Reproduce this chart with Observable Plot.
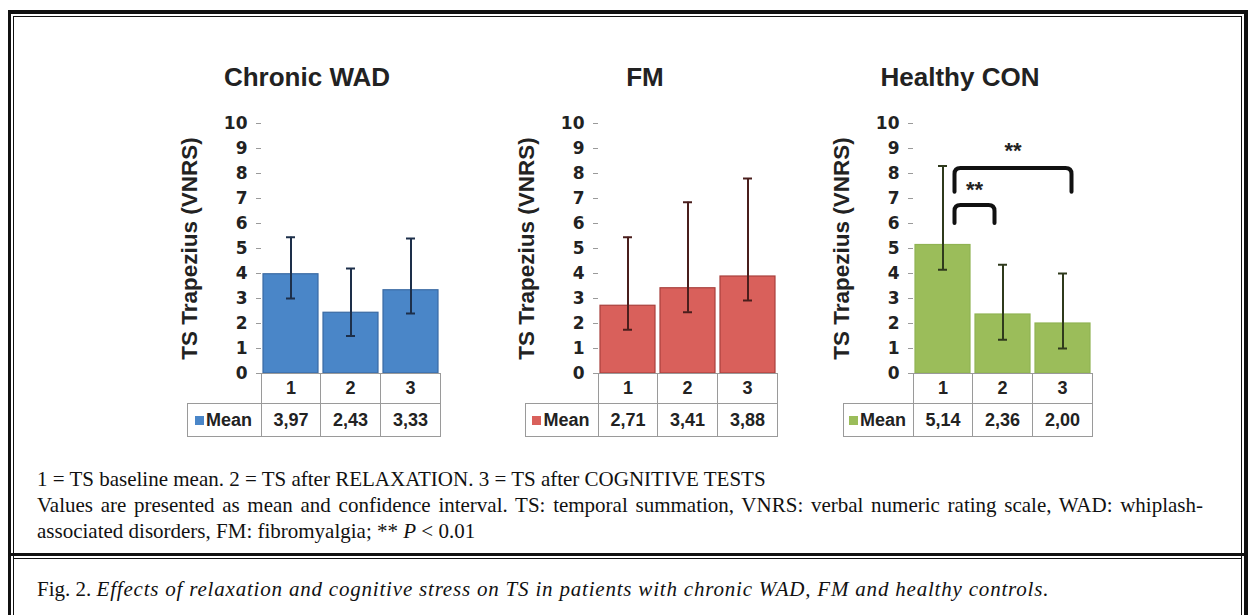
<!DOCTYPE html>
<html><head><meta charset="utf-8">
<script src="https://cdn.jsdelivr.net/npm/d3@7"></script>
<script src="https://cdn.jsdelivr.net/npm/@observablehq/plot@0.6"></script>
<style>
body{margin:0;background:#fff;}
#page{position:relative;width:1248px;height:615px;overflow:hidden;background:#fff;}
.abs{position:absolute;}
.title{font-family:"Liberation Sans",Arial,sans-serif;font-weight:bold;font-size:26px;color:#222;white-space:nowrap;transform:translateX(-50%);}
.cell{position:absolute;box-sizing:border-box;border:1px solid #9a9a9a;font-family:"Liberation Sans",Arial,sans-serif;font-weight:bold;font-size:18px;color:#222;display:flex;align-items:center;justify-content:center;background:#fff;}
.note{font-family:"Liberation Serif","Times New Roman",serif;font-size:21px;color:#111;line-height:26px;white-space:nowrap;}
.just{font-family:"Liberation Serif","Times New Roman",serif;font-size:21px;color:#111;line-height:26px;text-align:justify;text-align-last:justify;white-space:normal;}
.fig{font-family:"Liberation Serif","Times New Roman",serif;font-size:21px;color:#111;line-height:26px;white-space:nowrap;}
.fig i{letter-spacing:0.8px;}
</style></head><body><div id="page"></div>
<script>
// ---- data ----
const groups = ["Chronic WAD", "FM", "Healthy CON"];
const conditions = ["1", "2", "3"];
const meanWAD = [3.97, 2.43, 3.33];
const lowWAD  = [3.0, 1.5, 2.4];
const highWAD = [5.45, 4.2, 5.4];
const meanFM  = [2.71, 3.41, 3.88];
const lowFM   = [1.75, 2.45, 2.92];
const highFM  = [5.45, 6.85, 7.8];
const meanCON = [5.14, 2.36, 2.00];
const lowCON  = [4.15, 1.35, 1.0];
const highCON = [8.3, 4.35, 4.0];
const yTicks = [0, 1, 2, 3, 4, 5, 6, 7, 8, 9, 10];
const yLabel = "TS Trapezius (VNRS)";
const rowLabel = "Mean";
const bracketsCON = [
  {from: "1", to: "2", top: 6.72, leg: 6.0, label: "**", labelY: 7.5},
  {from: "1", to: "3", top: 8.2, leg: 7.25, label: "**", labelY: 9.05}
];
const noteLines = [
  "1 = TS baseline mean. 2 = TS after RELAXATION. 3 = TS after COGNITIVE TESTS",
  "Values are presented as mean and confidence interval. TS: temporal summation, VNRS: verbal numeric rating scale, WAD: whiplash-",
  "associated disorders, FM: fibromyalgia; ** <i>P</i> &lt; 0.01"
];
const figLabel = "Fig. 2.";
const figText = "Effects of relaxation and cognitive stress on TS in patients with chronic WAD, FM and healthy controls.";

// ---- layout / style ----
const page = document.getElementById("page");
const panels = [
  {name: groups[0], mean: meanWAD, low: lowWAD, high: highWAD, brackets: [], axisX: 261, meanLeft: 187, titleX: 307,
   fill: "#4a86c8", stroke: "#3a6aa3", err: "#1d2f4a"},
  {name: groups[1], mean: meanFM, low: lowFM, high: highFM, brackets: [], axisX: 598, meanLeft: 525, titleX: 645,
   fill: "#d9605b", stroke: "#a8403c", err: "#4a1e1c"},
  {name: groups[2], mean: meanCON, low: lowCON, high: highCON, brackets: bracketsCON, axisX: 913, meanLeft: 843, titleX: 960,
   fill: "#9bbd5a", stroke: "#90b352", err: "#2f3a1c"}
];
const mL = 95, mR = 10, mT = 15, mB = 6, frameW = 180, frameH = 250, frameTop = 123;
const bracketInset = [[12, -8], [12, 9]];

function fmt(v) { return v.toFixed(2).replace(".", ","); }

function div(cls, left, top, w, h, html) {
  const d = document.createElement("div");
  d.className = cls; d.style.left = left + "px"; d.style.top = top + "px";
  if (w != null) d.style.width = w + "px";
  if (h != null) d.style.height = h + "px";
  if (html != null) d.innerHTML = html;
  page.appendChild(d);
  return d;
}

// frame borders
div("abs", 8, 10, 1240, 4).style.background = "#111";
div("abs", 8, 10, 3, 605).style.background = "#111";
div("abs", 13, 16, 1, 599).style.background = "#111";
div("abs", 13, 16, 1229, 1).style.background = "#111";
div("abs", 1244, 10, 4, 605).style.background = "#111";
div("abs", 1241, 16, 1, 599).style.background = "#111";
div("abs", 8, 553, 1240, 3).style.background = "#111";
div("abs", 13, 558, 1228, 1).style.background = "#111";

for (const p of panels) {
  const rows = conditions.map((c, i) => ({cond: c, mean: p.mean[i], low: p.low[i], high: p.high[i]}));
  const bracketRender = (index, scales, values, dimensions, context) => {
    const g = d3.create("svg:g");
    const bw = scales.x.bandwidth ? scales.x.bandwidth() : 0;
    const cx = c => scales.x(c) + bw / 2;
    p.brackets.forEach((b, i) => {
      const x1 = cx(b.from) + bracketInset[i][0];
      const x2 = cx(b.to) + bracketInset[i][1];
      const yt = scales.y(b.top), yl = scales.y(b.leg), r = 6;
      g.append("path")
        .attr("d", `M${x1},${yl} L${x1},${yt + r} Q${x1},${yt} ${x1 + r},${yt} L${x2 - r},${yt} Q${x2},${yt} ${x2},${yt + r} L${x2},${yl}`)
        .attr("fill", "none").attr("stroke", "#111").attr("stroke-width", 4).attr("stroke-linecap", "round");
      g.append("text")
        .attr("x", (x1 + x2) / 2).attr("y", scales.y(b.labelY) + 11)
        .attr("text-anchor", "middle").attr("font-family", "Liberation Sans, Arial, sans-serif")
        .attr("font-weight", "bold").attr("font-size", 22).attr("fill", "#222").text(b.label);
    });
    return g.node();
  };
  const chart = Plot.plot({
    width: mL + frameW + mR, height: mT + frameH + mB,
    marginLeft: mL, marginRight: mR, marginTop: mT, marginBottom: mB,
    x: {domain: conditions, paddingInner: 0.08, paddingOuter: 0.03, axis: null},
    y: {domain: [0, 10], axis: null},
    style: {background: "transparent", overflow: "visible"},
    marks: [
      Plot.barY(rows, {x: "cond", y: "mean", fill: p.fill, stroke: p.stroke, strokeWidth: 1.2}),
      Plot.ruleX(rows, {x: "cond", y1: "low", y2: "high", stroke: p.err, strokeWidth: 2}),
      Plot.tickY(rows, {x: "cond", y: "low", stroke: p.err, strokeWidth: 2, insetLeft: 23, insetRight: 23}),
      Plot.tickY(rows, {x: "cond", y: "high", stroke: p.err, strokeWidth: 2, insetLeft: 23, insetRight: 23}),
      Plot.axisY({ticks: yTicks, tickFormat: d => String(d), tickSize: 5, tickPadding: 9, stroke: "#9a9a9a", fill: "#222",
        fontSize: 17, fontWeight: "bold", fontFamily: "DejaVu Sans, sans-serif", label: null}),
      Plot.ruleX([0], {frameAnchor: "left", y1: 0, y2: 10, stroke: "#9a9a9a", strokeWidth: 1.2}),
      Plot.text([yLabel], {frameAnchor: "left", textAnchor: "middle", rotate: -90, dx: -72, fontSize: 22.5, fontWeight: "bold",
        fontFamily: "Liberation Sans, Arial, sans-serif", fill: "#222"}),
      bracketRender
    ]
  });
  chart.style.position = "absolute";
  chart.style.left = (p.axisX - mL) + "px";
  chart.style.top = (frameTop - mT) + "px";
  page.appendChild(chart);

  // title
  div("abs title", p.titleX, 62, null, null, p.name);

  // table
  const colW = frameW / conditions.length;
  const r1Top = frameTop + frameH, r1H = 31, r2H = 34;
  conditions.forEach((c, i) => {
    div("cell", p.axisX + i * colW - (i ? 1 : 0), r1Top, colW + (i ? 1 : 0), r1H, c);
    div("cell", p.axisX + i * colW - (i ? 1 : 0), r1Top + r1H - 1, colW + (i ? 1 : 0), r2H, fmt(p.mean[i]));
  });
  div("cell", p.meanLeft, r1Top + r1H - 1, p.axisX - p.meanLeft + 1, r2H,
    `<span style="display:inline-block;width:9px;height:9px;background:${p.fill};margin-right:2px;margin-left:-2px"></span>${rowLabel}`);
}

// notes
div("abs note", 37, 466, null, null, noteLines[0]);
div("abs just", 37, 492, 1166, null, noteLines[1]);
div("abs note", 37, 518, null, null, noteLines[2]);
div("abs fig", 37, 576, null, null, `${figLabel} <i>${figText}</i>`);
</script>
</body></html>
